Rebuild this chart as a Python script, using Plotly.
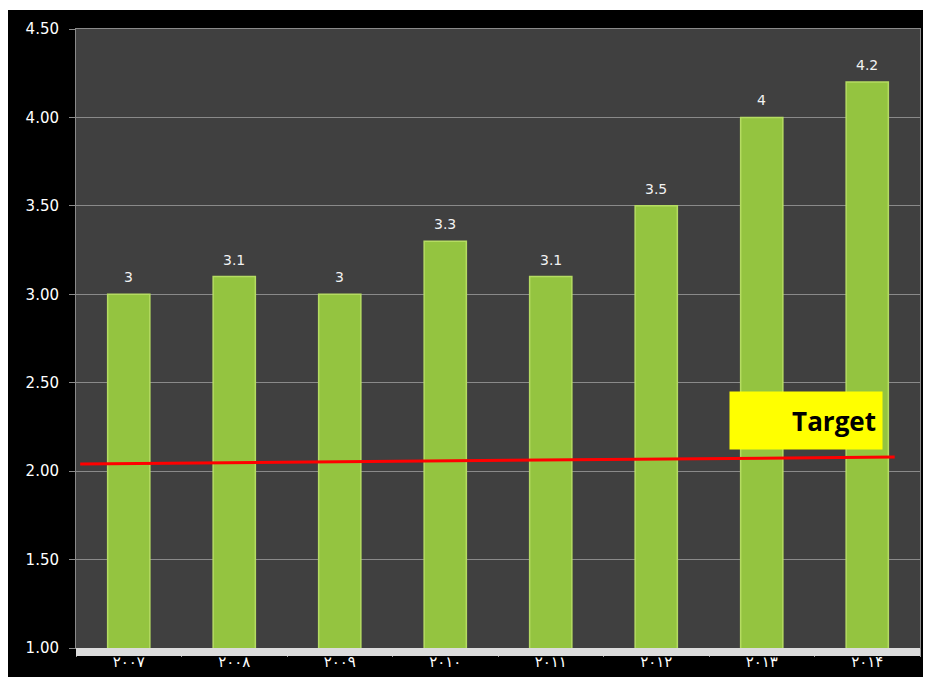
import plotly.graph_objects as go

years = ["۲۰۰۷", "۲۰۰۸", "۲۰۰۹", "۲۰۱۰", "۲۰۱۱", "۲۰۱۲", "۲۰۱۳", "۲۰۱۴"]
values = [3, 3.1, 3, 3.3, 3.1, 3.5, 4, 4.2]
value_labels = ["3", "3.1", "3", "3.3", "3.1", "3.5", "4", "4.2"]
target_x = [-0.46, 7.26]
target_y = [2.04, 2.08]
y_ticks = [1.0, 1.5, 2.0, 2.5, 3.0, 3.5, 4.0, 4.5]

# figure placed by the page at (8, 8)
OX, OY = 8, 8
W, H = 917, 669
L = 76 - OX
T = 29 - OY
R = W - (920 - OX)
B = H - (648 - OY)
pw, ph = W - L - R, H - T - B

def px_x(x):
    return (x - OX - L) / pw

def px_y(y):
    return (H - B - (y - OY)) / ph

fig = go.Figure()
fig.add_trace(go.Bar(
    x=years, y=values,
    marker=dict(color="#94c440", line=dict(color="#b5dc62", width=1.5)),
    showlegend=False,
))
fig.add_trace(go.Scatter(
    x=target_x, y=target_y, xaxis="x2", mode="lines",
    line=dict(color="#ff0000", width=3), showlegend=False,
))

shapes = [
    dict(type="rect", xref="paper", yref="paper", x0=px_x(OX), x1=px_x(OX + W), y0=px_y(10), y1=px_y(OY),
         fillcolor="white", line_width=0, layer="below"),
    dict(type="rect", xref="paper", yref="paper", x0=0, x1=1, y0=px_y(656), y1=0,
         fillcolor="#dcdcdc", line_width=0, layer="above"),
]

annotations = [
    dict(x=xv, y=yv, xref="x", yref="y", text=t, showarrow=False,
         yshift=17, yanchor="middle",
         font=dict(color="#f2f2f2", size=14, family="DejaVu Sans"))
    for xv, yv, t in zip(years, values, value_labels)
]
annotations.append(dict(
    xref="paper", yref="paper", x=px_x(806), y=px_y(421),
    text="<b>Target</b>", showarrow=False, width=140, height=45,
    align="right", bgcolor="#ffff00", borderpad=6,
    xanchor="center", yanchor="middle",
    font=dict(color="black", size=26, family="Open Sans"),
))

fig.update_layout(
    width=W, height=H,
    margin=dict(l=L, r=R, t=T, b=B),
    paper_bgcolor="black", plot_bgcolor="#404040",
    bargap=0.6,
    shapes=shapes,
    annotations=annotations,
    xaxis=dict(
        type="category", range=[-0.5, 7.5], showgrid=False,
        ticks="outside", tickson="boundaries", ticklen=8, tickcolor="#9a9a9a",
        tickfont=dict(color="white", size=15, family="DejaVu Sans"),
        showline=True, linecolor="#8a8a8a", mirror=True,
    ),
    xaxis2=dict(overlaying="x", range=[-0.5, 7.5], visible=False),
    yaxis=dict(
        range=[1, 4.5], tickvals=y_ticks, tickformat=".2f",
        gridcolor="#8a8a8a", gridwidth=1, zeroline=False,
        ticks="outside", ticklen=6, tickcolor="#8a8a8a",
        tickfont=dict(color="white", size=15, family="DejaVu Sans"),
        ticklabelstandoff=7,
        showline=True, linecolor="#8a8a8a", mirror=True,
    ),
)

fig.write_html("out.html")
